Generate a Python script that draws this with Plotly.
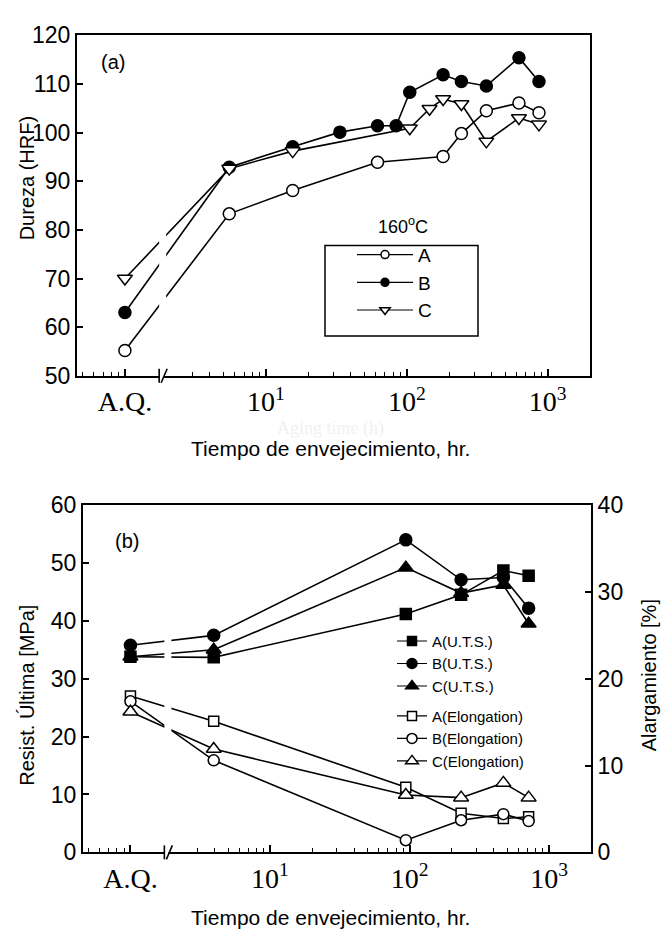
import plotly.graph_objects as go

# ---------------- data ----------------
# Aging time in hours; 1 h is where the as-quenched (A.Q.) state sits on the broken log axis
AQ = 1
tick_vals = [AQ, 10, 100, 1000]
tick_text = ["A.Q.", "10<sup>1</sup>", "10<sup>2</sup>", "10<sup>3</sup>"]

# (a) Hardness HRF, aged at 160 °C
t_a = [AQ, 5.5, 15.5, 62, 181, 244, 367, 625, 867]
hrf_a = [55.2, 83.3, 88.1, 93.9, 95.1, 99.8, 104.5, 106.1, 104.1]
t_b = [AQ, 5.5, 15.5, 33.5, 62, 84, 105, 181, 244, 367, 625, 867]
hrf_b = [63.0, 92.9, 97.1, 100.1, 101.4, 101.4, 108.3, 111.9, 110.5, 109.6, 115.4, 110.5]
t_c = [AQ, 5.5, 15.5, 105, 145, 181, 244, 367, 625, 867]
hrf_c = [70.0, 92.6, 96.2, 100.9, 104.9, 106.9, 105.9, 98.2, 103.0, 101.7]

# (b) Ultimate strength (MPa) and elongation (%)
t_mech = [AQ, 3.95, 94, 234, 470, 713]
uts_a = [33.8, 33.7, 41.2, 44.5, 48.7, 47.8]
uts_b = [35.8, 37.5, 54.0, 47.1, 47.5, 42.2]
uts_c = [33.8, 35.0, 49.2, 44.8, 46.2, 39.5]
el_a = [18.0, 15.1, 7.5, 4.5, 3.9, 4.1]
el_b = [17.4, 10.6, 1.4, 3.7, 4.4, 3.6]
el_c = [16.2, 11.9, 6.6, 6.3, 8.0, 6.3]

# axis break position (h)
BREAK_AT = 1.75

W, H = 661, 949
SANS = "Liberation Sans, Arial, sans-serif"
SERIF = "Liberation Serif, Times New Roman, serif"
BLACK = "black"


def px_x(x):
    return x / W


def px_y(y):
    return 1 - y / H


minor_vals = ([0.5, 0.6, 0.7, 0.8, 0.9] + [3, 4, 5, 6, 7, 8, 9]
              + [20, 30, 40, 50, 60, 70, 80, 90]
              + [200, 300, 400, 500, 600, 700, 800, 900])

fig = go.Figure()


def series(x, y, name, symbol, filled, size, leg_size, xaxis, yaxis, legend):
    style = dict(symbol=symbol, color=BLACK if filled else "white",
                 line=dict(color=BLACK, width=1.5))
    fig.add_trace(go.Scatter(
        x=x, y=y, name=name, mode="lines+markers", showlegend=False,
        xaxis=xaxis, yaxis=yaxis,
        line=dict(color=BLACK, width=1.6),
        marker=dict(style, size=size),
    ))
    # legend key with a smaller symbol
    fig.add_trace(go.Scatter(
        x=[None], y=[None], name=name, mode="lines+markers",
        xaxis=xaxis, yaxis=yaxis, legend=legend,
        line=dict(color=BLACK, width=1.2),
        marker=dict(style, size=leg_size),
    ))


# panel (a)
series(t_a, hrf_a, "A", "circle", False, 12, 8, "x", "y", "legend")
series(t_b, hrf_b, "B", "circle", True, 12, 8, "x", "y", "legend")
series(t_c, hrf_c, "C", "triangle-down", False, 13, 9, "x", "y", "legend")

# panel (b)
series(t_mech, uts_a, "A(U.T.S.)", "square", True, 11, 9, "x2", "y3", "legend2")
series(t_mech, uts_b, "B(U.T.S.)", "circle", True, 12, 10, "x2", "y3", "legend2")
series(t_mech, uts_c, "C(U.T.S.)", "triangle-up", True, 13, 11, "x2", "y3", "legend2")
series(t_mech, el_a, "A(Elongation)", "square", False, 10, 9, "x2", "y4", "legend3")
series(t_mech, el_b, "B(Elongation)", "circle", False, 11, 10, "x2", "y4", "legend3")
series(t_mech, el_c, "C(Elongation)", "triangle-up", False, 13, 11, "x2", "y4", "legend3")

xcommon = dict(
    type="log", range=[-0.34, 3.30],
    showline=True, linecolor=BLACK, linewidth=2, mirror=True,
    ticks="inside", ticklen=7, tickwidth=1.5, tickcolor=BLACK,
    tickmode="array", tickvals=tick_vals, ticktext=tick_text,
    tickfont=dict(family=SERIF, size=28, color=BLACK),
    minor=dict(ticks="inside", ticklen=4, tickwidth=1.2, tickcolor=BLACK,
               tickmode="array", tickvals=minor_vals, showgrid=False),
    showgrid=False, zeroline=False,
)
ycommon = dict(
    showline=True, linecolor=BLACK, linewidth=2,
    ticks="inside", ticklen=6, tickwidth=1.5, tickcolor=BLACK,
    dtick=10, tickfont=dict(family=SANS, size=23, color=BLACK),
    showgrid=False, zeroline=False,
)

key_common = dict(xanchor="left", yanchor="top", borderwidth=0,
                  bgcolor="rgba(0,0,0,0)", tracegroupgap=0)

fig.update_layout(
    width=W, height=H, margin=dict(l=0, r=0, t=0, b=0),
    paper_bgcolor="white", plot_bgcolor="white",
    xaxis=dict(xcommon, domain=[px_x(77), px_x(590)], anchor="y"),
    yaxis=dict(ycommon, domain=[px_y(373), px_y(23)], range=[50, 120], mirror=True, anchor="x"),
    xaxis2=dict(xcommon, domain=[px_x(83), px_x(591)], anchor="y3"),
    yaxis3=dict(ycommon, domain=[px_y(863), px_y(506)], range=[0, 60], anchor="x2"),
    yaxis4=dict(ycommon, range=[0, 40], overlaying="y3", side="right", anchor="x2"),
    legend=dict(key_common, x=px_x(352), y=px_y(229), itemwidth=56,
                font=dict(family=SANS, size=19, color=BLACK)),
    legend2=dict(key_common, x=px_x(392), y=px_y(629), itemwidth=30,
                 font=dict(family=SANS, size=15, color=BLACK)),
    legend3=dict(key_common, x=px_x(392), y=px_y(706), itemwidth=30,
                 font=dict(family=SANS, size=15, color=BLACK)),
)

# frame around the panel (a) key
fig.add_shape(type="rect", xref="paper", yref="paper", layer="below",
              x0=px_x(325), x1=px_x(478), y0=px_y(332), y1=px_y(239),
              line=dict(color=BLACK, width=1.5), fillcolor="white")

# axis breaks: gap through the connecting lines, gap in the x axis and the "//" marks
for xr, yr in (("x", "y"), ("x2", "y3")):
    fig.add_shape(type="rect", xref=xr, yref=f"{yr} domain", layer="above",
                  xsizemode="pixel", xanchor=BREAK_AT, x0=-7, x1=7,
                  y0=0.012, y1=0.99, fillcolor="white", line=dict(width=0))
    fig.add_shape(type="rect", xref=xr, yref=f"{yr} domain", layer="above",
                  xsizemode="pixel", xanchor=BREAK_AT, x0=-4, x1=4,
                  ysizemode="pixel", yanchor=0, y0=-4, y1=4,
                  fillcolor="white", line=dict(width=0))
    for dx in (-5, 5):
        fig.add_shape(type="line", xref=xr, yref=f"{yr} domain", layer="above",
                      xsizemode="pixel", xanchor=BREAK_AT, x0=dx - 3, x1=dx + 3,
                      ysizemode="pixel", yanchor=0, y0=-7, y1=7,
                      line=dict(color=BLACK, width=1.6))


def label(x, y, text, size, angle=0, family=SANS, color=BLACK):
    fig.add_annotation(x=px_x(x), y=px_y(y), xref="paper", yref="paper",
                       text=text, showarrow=False, textangle=angle,
                       xanchor="center", yanchor="middle",
                       font=dict(family=family, size=size, color=color))


label(113, 50, "(a)", 20)
label(403, 218, "160<sup>o</sup>C", 18)
label(27, 170, "Dureza (HRF)", 20, angle=-90)
label(330, 427, "Aging time (h)", 18, family=SERIF, color="#f1f1f1")
label(330, 448, "Tiempo de envejecimiento, hr.", 21)

label(127, 543, "(b)", 20)
label(27, 702, "Resist. Última [MPa]", 20, angle=-90)
label(649, 681, "Alargamiento [%]", 20, angle=-90)
label(330, 930, "Tiempo de envejecimiento, hr.", 21)

fig.write_html("out.html")
